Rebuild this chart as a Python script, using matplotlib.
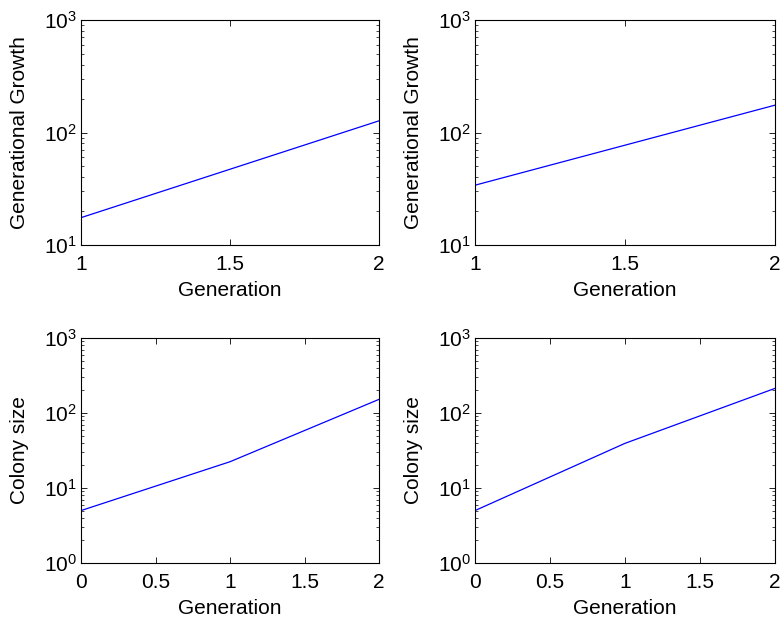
import numpy as np
import matplotlib
matplotlib.use('Agg')
import matplotlib.pyplot as plt

plt.rcParams['font.family'] = ['Liberation Sans', 'DejaVu Sans']
plt.rcParams['mathtext.fontset'] = 'custom'
plt.rcParams['mathtext.rm'] = 'Liberation Sans'
plt.rcParams['mathtext.it'] = 'Liberation Sans'

# Top row: generational growth vs generation
gen_top = [1, 2]
growth_left = [17.5, 127]
growth_right = [34, 175]

# Bottom row: colony size vs generation
gen_bot = [0, 1, 2]
colony_left = [5, 22.4, 152]
colony_right = [5, 39.4, 213]

W, H = 782, 623
fig = plt.figure(figsize=(W/100, H/100), dpi=100)

def box(x0, y0, x1, y1):
    return [x0/W, 1 - y1/H, (x1-x0)/W, (y1-y0)/H]

panels = [
    (box(81, 20, 379, 245), gen_top, growth_left, 'Generational Growth', (10, 1000), [1, 1.5, 2], ['1', '1.5', '2']),
    (box(475, 20, 775, 245), gen_top, growth_right, 'Generational Growth', (10, 1000), [1, 1.5, 2], ['1', '1.5', '2']),
    (box(81, 338, 379, 563), gen_bot, colony_left, 'Colony size', (1, 1000), [0, 0.5, 1, 1.5, 2], ['0', '0.5', '1', '1.5', '2']),
    (box(475, 338, 775, 563), gen_bot, colony_right, 'Colony size', (1, 1000), [0, 0.5, 1, 1.5, 2], ['0', '0.5', '1', '1.5', '2']),
]

fs = 15
for rect, x, y, ylab, ylim, xt, xtl in panels:
    ax = fig.add_axes(rect)
    ax.plot(x, y, c='blue', lw=0.9)
    ax.set_yscale('log')
    ax.set_xlim(x[0], x[-1])
    ax.set_ylim(*ylim)
    ax.set_xticks(xt)
    ax.set_xticklabels(xtl)
    ax.set_xlabel('Generation', fontsize=fs, labelpad=5)
    ax.set_ylabel(ylab, fontsize=fs, labelpad=11)
    ax.tick_params(which='both', direction='in', right=True, top=True, labelsize=fs)
    ax.tick_params(which='major', length=4, width=0.6)
    ax.tick_params(which='minor', length=2, width=0.5)
    ax.tick_params(axis='x', pad=7)
    ax.tick_params(axis='y', pad=3)
    for s in ax.spines.values():
        s.set_linewidth(0.8)

fig.savefig('out.png', dpi=100)
